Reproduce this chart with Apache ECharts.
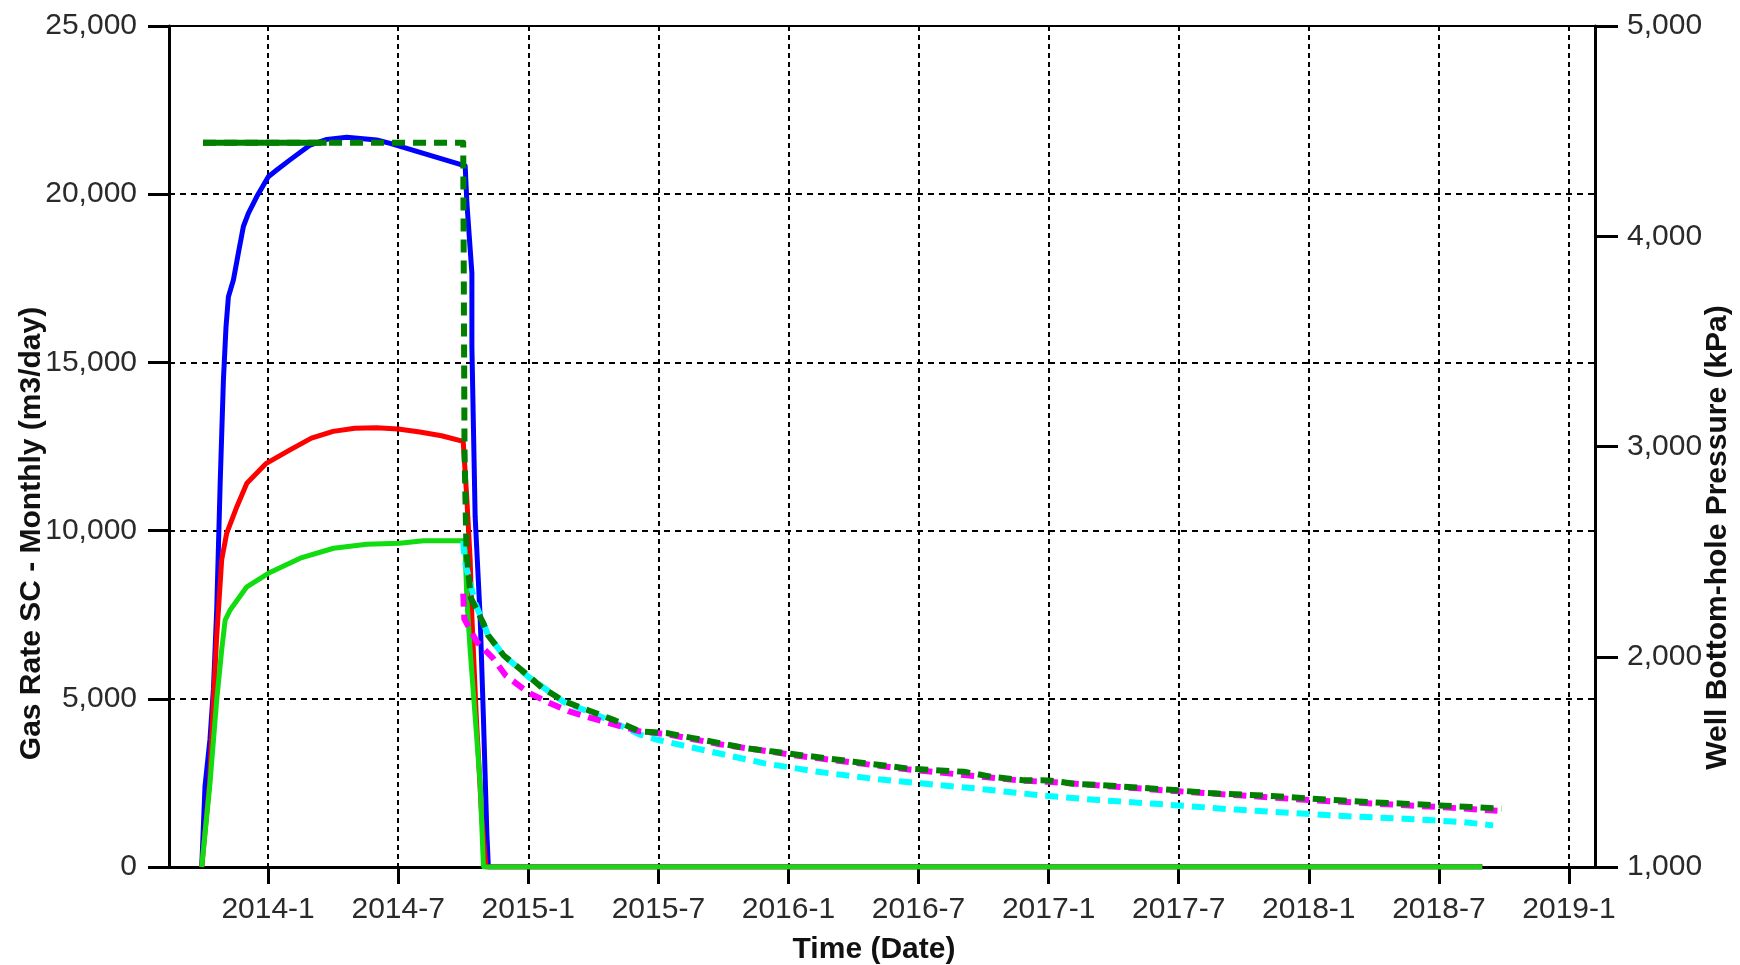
<!DOCTYPE html>
<html>
<head>
<meta charset="utf-8">
<script src="https://cdn.jsdelivr.net/npm/echarts@6/dist/echarts.min.js"></script>
<style>
html,body{margin:0;padding:0;background:#fff;}
#chart{width:1740px;height:965px;}
</style>
</head>
<body>
<div id="chart"></div>
<script>
// x values are months since 2014-01-01
const xTickMonths = [0, 6, 12, 18, 24, 30, 36, 42, 48, 54, 60];
const xTickLabels = ['2014-1','2014-7','2015-1','2015-7','2016-1','2016-7','2017-1','2017-7','2018-1','2018-7','2019-1'];

// Gas rate (m3/day), left axis
const blueMonths = [-3.06,-2.91,-2.68,-2.52,-2.37,-2.21,-2.06,-1.94,-1.83,-1.60,-1.37,-1.14,-0.91,-0.52,0.01,0.40,1.01,1.94,2.71,3.63,5.01,5.63,6.86,9.09,9.17,9.40,9.40,9.55,9.78,9.93,10.09,10.16,56];
const blueRate   = [0,2400,3800,5300,7640,11400,14480,16060,16950,17450,18250,19040,19430,19930,20520,20720,21020,21460,21630,21690,21610,21510,21270,20840,19730,17650,15470,10420,7440,4470,1000,0,0];

const redMonths = [-3.06,-2.70,-2.52,-2.37,-2.14,-1.91,-1.44,-0.98,-0.08,1.01,2,3,4,5,6,7,8,9.0,9.17,9.32,9.40,9.60,9.85,10.05,56];
const redRate   = [0,2500,4965,6850,9130,9920,10710,11410,12000,12400,12750,12950,13040,13060,13020,12930,12820,12650,10910,9130,7440,4500,1500,0,0];

const greenMonths = [-3.06,-2.68,-2.37,-2.14,-1.98,-1.75,-0.98,0.01,1.48,3.02,4.55,6.06,7.17,9.0,9.09,9.17,9.32,9.55,9.78,9.93,9.95,56];
const greenRate   = [0,2490,4965,6450,7340,7640,8330,8730,9180,9475,9594,9624,9700,9700,9424,7938,6451,4469,2488,60,0,0];

// Well bottom-hole pressure (kPa), right axis
const dkGreenMonths = [-3,9.0,9.06,9.15,9.35,9.93,10.15,10.87,12.0,12.62,13.64,14.88,15.9,17.14,18.37,19.6,20.83,22.06,23.29,24.52,25.76,26.99,28.23,29.46,30.7,32.1,33.37,34.8,36.0,37.16,38.7,40.2,41.96,43.3,45.0,46.3,48.1,49.4,50.7,52.4,54.0,55.5,56.9];
const dkGreenBhp    = [4445,4445,2980,2500,2280,2159,2102,2006,1910,1854,1789,1741,1701,1645,1637,1613,1589,1565,1549,1533,1517,1501,1485,1469,1461,1453,1429,1413,1412,1396,1388,1377,1365,1352,1344,1338,1325,1317,1309,1301,1293,1285,1277];
const dkGreenSolidMonths = [-3, 2.7];
const dkGreenSolidBhp    = [4445, 4445];

const magentaMonths = [9.0,9.05,9.62,10.36,10.97,12.0,12.85,13.85,14.87,17.14,18.37,20.83,24.52,29.46,34.8,36.0,42.0,48.1,54.0,56.7];
const magentaBhp    = [2300,2180,2072,1995,1910,1830,1786,1741,1709,1645,1632,1584,1528,1465,1410,1405,1360,1318,1285,1268];

const cyanMonths = [9.0,9.06,9.55,10.15,10.87,12.0,13.64,14.88,15.9,17.14,17.96,20.4,22.9,25.35,27.8,30.2,32.7,35.6,38.1,40.87,41.96,44.6,47.2,49.8,52.4,53.7,55.1,56.5];
const cyanBhp    = [2550,2460,2256,2102,2006,1905,1785,1735,1690,1630,1605,1549,1493,1453,1421,1397,1373,1341,1320,1301,1293,1273,1257,1241,1230,1222,1214,1198];

function pairs(xs, ys){ return xs.map((x,i)=>[x, ys[i]]); }

const FONT = 'Liberation Sans';
const labelStyle = {color:'#2a2a2a', fontFamily:FONT, fontSize:30};
function nameStyle(extra){ return Object.assign({color:'#111', fontFamily:FONT, fontSize:30, fontWeight:'bold'}, extra); }

const chart = echarts.init(document.getElementById('chart'), null, {renderer:'canvas'});

function lineSeries(name, data, color, width, dashed, yIndex){
  return {
    name, type:'line', data, yAxisIndex:yIndex, showSymbol:false, symbol:'none',
    lineStyle:{color, width, type: dashed ? [13,8] : 'solid', cap:'butt', join:'round'},
    itemStyle:{color}, animation:false, silent:true
  };
}

chart.setOption({
  backgroundColor:'#fff',
  animation:false,
  grid:{left:169, right:145, top:26, bottom:98, show:true, borderColor:'#000', borderWidth:2,
        backgroundColor:'transparent', containLabel:false, outerBoundsMode:'none'},
  xAxis:{
    type:'value', min:-4.57, max:61.2,
    name:'Time (Date)', nameLocation:'middle', nameGap:68, nameMoveOverlap:false,
    nameTextStyle:nameStyle({padding:[0,16,0,0]}),
    axisLine:{show:true, onZero:false, lineStyle:{color:'#000', width:3}},
    axisTick:{show:true, customValues:xTickMonths, length:17, lineStyle:{color:'#000', width:3}},
    axisLabel:Object.assign({customValues:xTickMonths, margin:28,
      formatter:(v)=>{const i=xTickMonths.indexOf(Math.round(v)); return i>=0 ? xTickLabels[i] : '';}}, labelStyle),
    splitLine:{show:true, lineStyle:{color:'#000', width:2, type:[5,4]}}
  },
  yAxis:[{
    type:'value', min:0, max:25000, interval:5000, position:'left',
    name:'Gas Rate SC - Monthly (m3/day)', nameLocation:'middle', nameGap:122, nameMoveOverlap:false,
    nameTextStyle:nameStyle({padding:[0,174,0,0]}),
    axisLine:{show:true, onZero:false, lineStyle:{color:'#000', width:3}},
    axisTick:{show:true, length:21, lineStyle:{color:'#000', width:3}},
    axisLabel:Object.assign({margin:32, formatter:(v)=>v.toLocaleString('en-US')}, labelStyle),
    splitLine:{show:true, lineStyle:{color:'#000', width:2, type:[6,5]}}
  },{
    type:'value', min:1000, max:5000, interval:1000, position:'right',
    name:'Well Bottom-hole Pressure (kPa)', nameLocation:'middle', nameGap:108, nameMoveOverlap:false,
    nameTextStyle:nameStyle({padding:[0,182,0,0]}),
    axisLine:{show:true, onZero:false, lineStyle:{color:'#000', width:3}},
    axisTick:{show:true, length:23, lineStyle:{color:'#000', width:3}},
    axisLabel:Object.assign({margin:32, formatter:(v)=>v.toLocaleString('en-US')}, labelStyle),
    splitLine:{show:false}
  }],
  series:[
    lineSeries('Gas Rate 1', pairs(blueMonths, blueRate), '#0000ff', 5, false, 0),
    lineSeries('Gas Rate 2', pairs(redMonths, redRate), '#ff0000', 5, false, 0),
    lineSeries('Gas Rate 3', pairs(greenMonths, greenRate), '#10dc10', 5, false, 0),
    lineSeries('BHP 3', pairs(cyanMonths, cyanBhp), '#00ffff', 6, true, 1),
    lineSeries('BHP 2', pairs(magentaMonths, magentaBhp), '#ff00ff', 6, true, 1),
    lineSeries('BHP 1', pairs(dkGreenMonths, dkGreenBhp), '#007f00', 6, true, 1),
    lineSeries('BHP 1 (constant)', pairs(dkGreenSolidMonths, dkGreenSolidBhp), '#007f00', 6, false, 1)
  ]
});
</script>
</body>
</html>
